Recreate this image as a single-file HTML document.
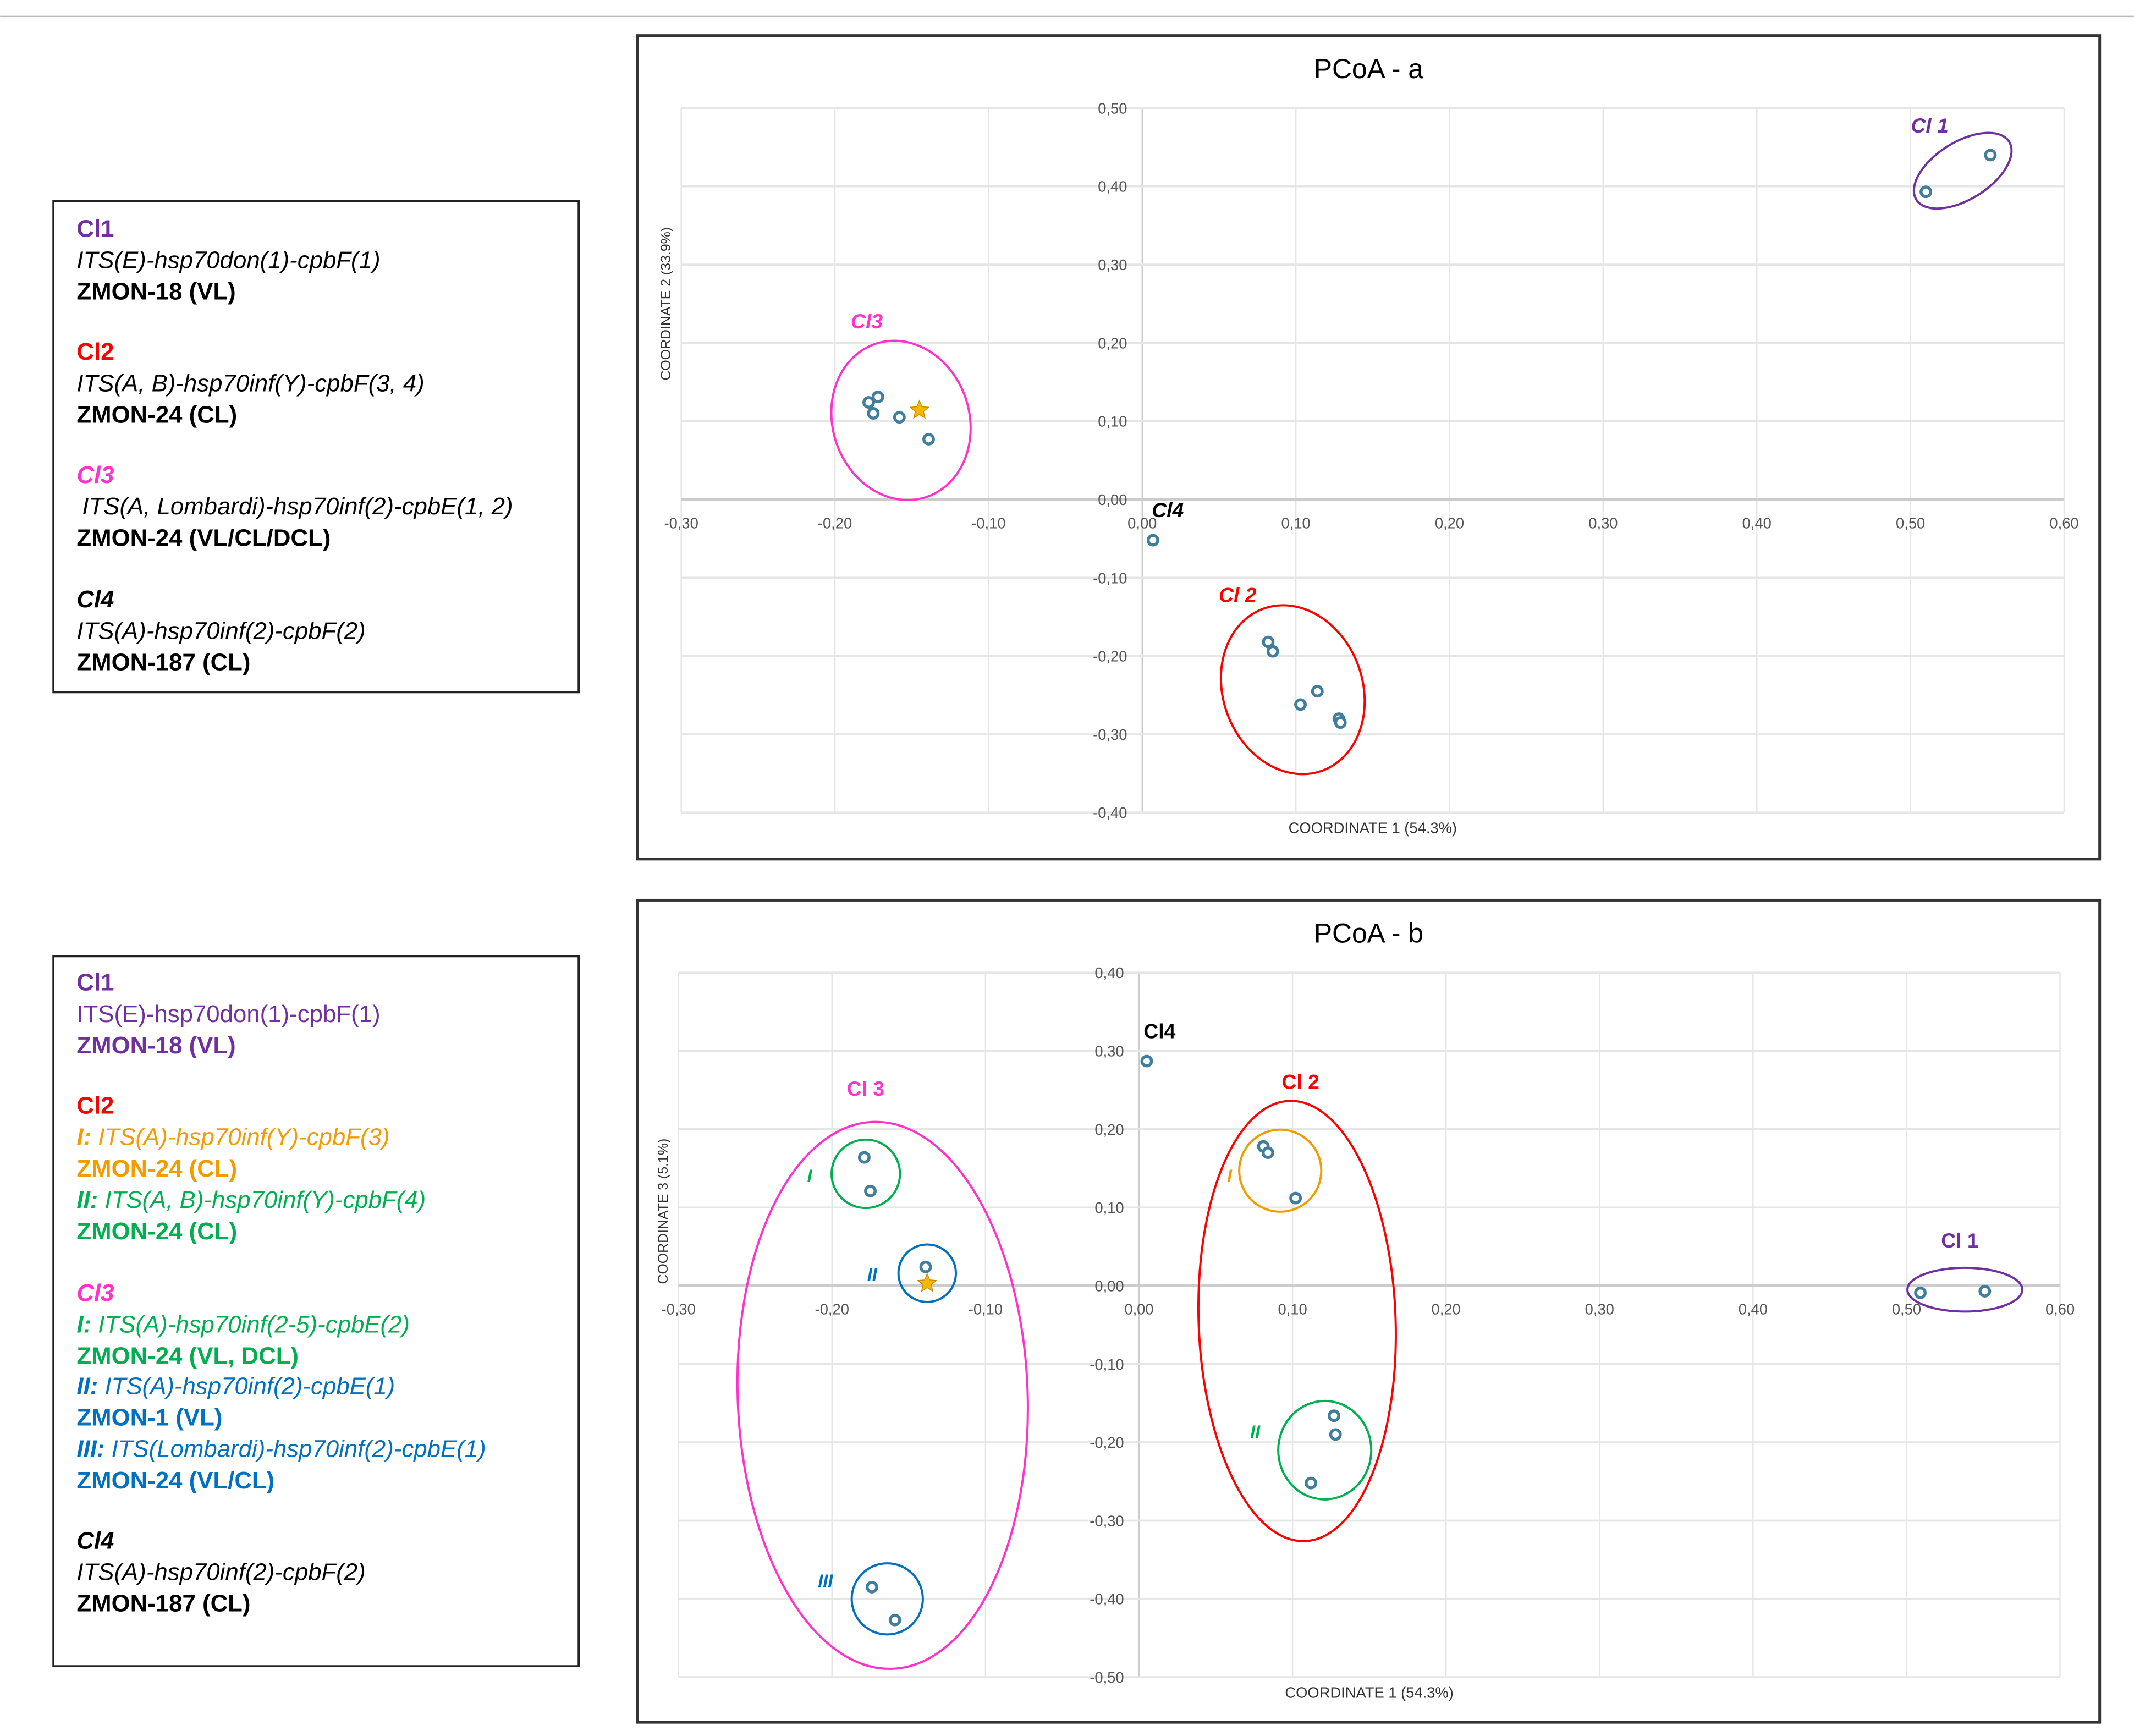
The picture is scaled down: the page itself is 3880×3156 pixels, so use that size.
<!DOCTYPE html>
<html><head><meta charset="utf-8"><style>
html,body{margin:0;padding:0;background:#fff}
svg{display:block}
text{font-family:"Liberation Sans",sans-serif}
</style></head><body>
<svg id="root" width="3880" height="3156" viewBox="0 0 1560 1269" xmlns="http://www.w3.org/2000/svg">
<line x1="0" y1="12" x2="1560" y2="12" stroke="#bbb" stroke-width="1"/>
<g>
<rect x="39" y="147" width="384" height="359" fill="#fff" stroke="#222" stroke-width="1.5"/>
<g font-size="17.6" font-style="italic">
<text x="56" y="173" fill="#7030a0" font-weight="bold" font-style="normal">Cl1</text>
<text x="56" y="196">ITS(E)-hsp70don(1)-cpbF(1)</text>
<text x="56" y="219" font-weight="bold" font-style="normal">ZMON-18 (VL)</text>
<text x="56" y="263" fill="#ff0000" font-weight="bold" font-style="normal">Cl2</text>
<text x="56" y="286">ITS(A, B)-hsp70inf(Y)-cpbF(3, 4)</text>
<text x="56" y="309" font-weight="bold" font-style="normal">ZMON-24 (CL)</text>
<text x="56" y="353" fill="#ff33cc" font-weight="bold">Cl3</text>
<text x="60" y="376">ITS(A, Lombardi)-hsp70inf(2)-cpbE(1, 2)</text>
<text x="56" y="399" font-weight="bold" font-style="normal">ZMON-24 (VL/CL/DCL)</text>
<text x="56" y="444" font-weight="bold">Cl4</text>
<text x="56" y="467">ITS(A)-hsp70inf(2)-cpbF(2)</text>
<text x="56" y="490" font-weight="bold" font-style="normal">ZMON-187 (CL)</text>
</g></g>
<g>
<rect x="39" y="699" width="384" height="519" fill="#fff" stroke="#222" stroke-width="1.5"/>
<g font-size="17.6">
<text x="56" y="724" fill="#7030a0" font-weight="bold">Cl1</text>
<text x="56" y="747" fill="#7030a0">ITS(E)-hsp70don(1)-cpbF(1)</text>
<text x="56" y="770" fill="#7030a0" font-weight="bold">ZMON-18 (VL)</text>
<text x="56" y="814" fill="#ff0000" font-weight="bold">Cl2</text>
<text x="56" y="837" fill="#f59b00" font-style="italic"><tspan font-weight="bold">I:</tspan> ITS(A)-hsp70inf(Y)-cpbF(3)</text>
<text x="56" y="860" fill="#f59b00" font-weight="bold">ZMON-24 (CL)</text>
<text x="56" y="883" fill="#00b050" font-style="italic"><tspan font-weight="bold">II:</tspan> ITS(A, B)-hsp70inf(Y)-cpbF(4)</text>
<text x="56" y="906" fill="#00b050" font-weight="bold">ZMON-24 (CL)</text>
<text x="56" y="951" fill="#ff33cc" font-weight="bold" font-style="italic">Cl3</text>
<text x="56" y="974" fill="#00b050" font-style="italic"><tspan font-weight="bold">I:</tspan> ITS(A)-hsp70inf(2-5)-cpbE(2)</text>
<text x="56" y="997" fill="#00b050" font-weight="bold">ZMON-24 (VL, DCL)</text>
<text x="56" y="1019" fill="#0070c0" font-style="italic"><tspan font-weight="bold">II:</tspan> ITS(A)-hsp70inf(2)-cpbE(1)</text>
<text x="56" y="1042" fill="#0070c0" font-weight="bold">ZMON-1 (VL)</text>
<text x="56" y="1065" fill="#0070c0" font-style="italic"><tspan font-weight="bold">III:</tspan> ITS(Lombardi)-hsp70inf(2)-cpbE(1)</text>
<text x="56" y="1088" fill="#0070c0" font-weight="bold">ZMON-24 (VL/CL)</text>
<text x="56" y="1132" font-weight="bold" font-style="italic">Cl4</text>
<text x="56" y="1155" font-style="italic">ITS(A)-hsp70inf(2)-cpbF(2)</text>
<text x="56" y="1178" font-weight="bold">ZMON-187 (CL)</text>
</g></g>
<g id="chartA"></g>
<g id="chartB"></g>
</svg>
<script>
const xTicks = [-0.3,-0.2,-0.1,0,0.1,0.2,0.3,0.4,0.5,0.6];
const yTicksA = [0.5,0.4,0.3,0.2,0.1,0,-0.1,-0.2,-0.3,-0.4];
const yTicksB = [0.4,0.3,0.2,0.1,0,-0.1,-0.2,-0.3,-0.4,-0.5];
const ptsAx = [0.510,0.552,-0.178,-0.172,-0.175,-0.158,-0.139,0.007,0.082,0.085,0.114,0.103,0.128,0.129];
const ptsAy = [0.393,0.440,0.124,0.131,0.110,0.105,0.077,-0.052,-0.182,-0.194,-0.245,-0.262,-0.280,-0.285];
const starA = [-0.145,0.114];
const ptsBx = [0.005,-0.179,-0.175,-0.139,-0.174,-0.159,0.081,0.084,0.102,0.127,0.128,0.112,0.509,0.551];
const ptsBy = [0.287,0.164,0.121,0.024,-0.385,-0.427,0.178,0.170,0.112,-0.166,-0.190,-0.252,-0.009,-0.007];
const starB = [-0.138,0.003];
const NS='http://www.w3.org/2000/svg';
function mk(p,tag,at,txt){const e=document.createElementNS(NS,tag);for(const k in at)e.setAttribute(k,at[k]);if(txt!==undefined)e.textContent=txt;p.appendChild(e);return e;}
function fmt(v){return (v<0?'-':'')+Math.abs(v).toFixed(2).replace('.',',');}
function star(cx,cy,r){let s='';for(let i=0;i<10;i++){const a=-Math.PI/2+i*Math.PI/5,rr=i%2?r*0.45:r;s+=(cx+rr*Math.cos(a)).toFixed(1)+','+(cy+rr*Math.sin(a)).toFixed(1)+' ';}return s;}
function chart(g,cfg){
  mk(g,'rect',{x:cfg.box[0],y:cfg.box[1],width:cfg.box[2],height:cfg.box[3],fill:'#fff',stroke:'#333','stroke-width':2});
  const t=mk(g,'text',{x:cfg.box[0]+cfg.box[2]/2,y:cfg.box[1]+31,'text-anchor':'middle','font-size':20},cfg.title);
  
  const X=v=>cfg.x0+(v-(-0.3))/(0.9)*(cfg.x1-cfg.x0);
  const yMax=cfg.yt[0],yMin=cfg.yt[cfg.yt.length-1];
  const Y=v=>cfg.y0+(yMax-v)/(yMax-yMin)*(cfg.y1-cfg.y0);
  xTicks.forEach(v=>{const l=mk(g,'line',{x1:X(v),y1:cfg.y0,x2:X(v),y2:cfg.y1,stroke:v===0?'#ccc':'#e6e6e6','stroke-width':1});
    
    const tl=mk(g,'text',{x:X(v),y:Y(0)+21,'text-anchor':'middle','font-size':11,fill:'#555'},fmt(v));
    });
  cfg.yt.forEach(v=>{const l=mk(g,'line',{x1:cfg.x0,y1:Y(v),x2:cfg.x1,y2:Y(v),stroke:v===0?'#ccc':'#e6e6e6','stroke-width':v===0?2:1.5});
    
    const tl=mk(g,'text',{x:X(0)-11,y:Y(v)+4,'text-anchor':'end','font-size':11,fill:'#555'},fmt(v));
    });
  const xt=mk(g,'text',{x:X(0.15),y:cfg.y1+15,'text-anchor':'middle','font-size':11,fill:'#333'},'COORDINATE 1 (54.3%)');
  
  const yc=(cfg.y0+Y(0))/2+cfg.ytOff;
  const yt=mk(g,'text',{x:cfg.x0-8,y:yc,'text-anchor':'middle','font-size':10,fill:'#333',transform:'rotate(-90 '+(cfg.x0-8)+' '+yc+')'},cfg.ytitle);
  
  cfg.ell.forEach(e=>{const el=mk(g,'ellipse',{cx:X(e[0]),cy:Y(e[1]),rx:e[2],ry:e[3],fill:'none',stroke:e[5],'stroke-width':1.6,transform:'rotate('+e[4]+' '+X(e[0])+' '+Y(e[1])+')'});
    });
  cfg.lab.forEach(l=>{const tx=mk(g,'text',{x:l[0],y:l[1],'font-size':15,fill:l[3],'font-style':cfg.italic?'italic':'normal','font-weight':'bold'},l[2]);
    });
  cfg.px.forEach((v,i)=>{const c=mk(g,'circle',{cx:X(v),cy:Y(cfg.py[i]),r:3.5,fill:'#fff',stroke:'#3f7f9c','stroke-width':2.2});
    });
  const s=mk(g,'polygon',{points:star(X(cfg.st[0]),Y(cfg.st[1]),7),fill:'#f5b800',stroke:'#c88a00','stroke-width':0.6});
  
}
chart(document.getElementById('chartA'),{box:[466,26,1069,602],title:'PCoA - a',x0:498,x1:1509,y0:79,y1:594,yt:yTicksA,ytitle:'COORDINATE 2 (33.9%)',ytOff:0,italic:true,
  px:ptsAx,py:ptsAy,st:starA,
  ell:[[0.534,0.42,40,21,-32,'#7030a0'],[-0.157,0.101,50,59,-18,'#ff33cc'],[0.098,-0.243,51,63,-20,'#ff0000']],
  lab:[[1397,97,'Cl 1','#7030a0'],[622,240,'Cl3','#ff33cc'],[842,378,'Cl4','#000'],[891,440,'Cl 2','#ff0000']]});
chart(document.getElementById('chartB'),{box:[466,658,1069,601],title:'PCoA - b',x0:496,x1:1506,y0:711,y1:1226,yt:yTicksB,ytitle:'COORDINATE 3 (5.1%)',ytOff:60,italic:false,
  px:ptsBx,py:ptsBy,st:starB,
  ell:[[0.538,-0.005,42,16,0,'#7030a0'],[-0.167,-0.14,106,200,-2,'#ff33cc'],[-0.178,0.143,25,25,0,'#00b050'],[-0.138,0.016,21,21,0,'#0070c0'],[-0.164,-0.4,26,26,0,'#0070c0'],[0.103,-0.045,72,161,-2,'#ff0000'],[0.092,0.147,30,30,0,'#f59b00'],[0.121,-0.21,34,36,0,'#00b050']],
  lab:[[1419,912,'Cl 1','#7030a0'],[619,801,'Cl 3','#ff33cc'],[836,759,'Cl4','#000'],[937,796,'Cl 2','#ff0000']]});
const ex=[[590,864,'I','#00b050'],[634,936,'II','#0070c0'],[598,1160,'III','#0070c0'],[897,864,'I','#f59b00'],[914,1051,'II','#00b050']];
const gB=document.getElementById('chartB');
ex.forEach(l=>{const t=mk(gB,'text',{x:l[0],y:l[1],'font-size':13,fill:l[3],'font-style':'italic','font-weight':'bold'},l[2]);
  
  });
</script>
</body></html>
